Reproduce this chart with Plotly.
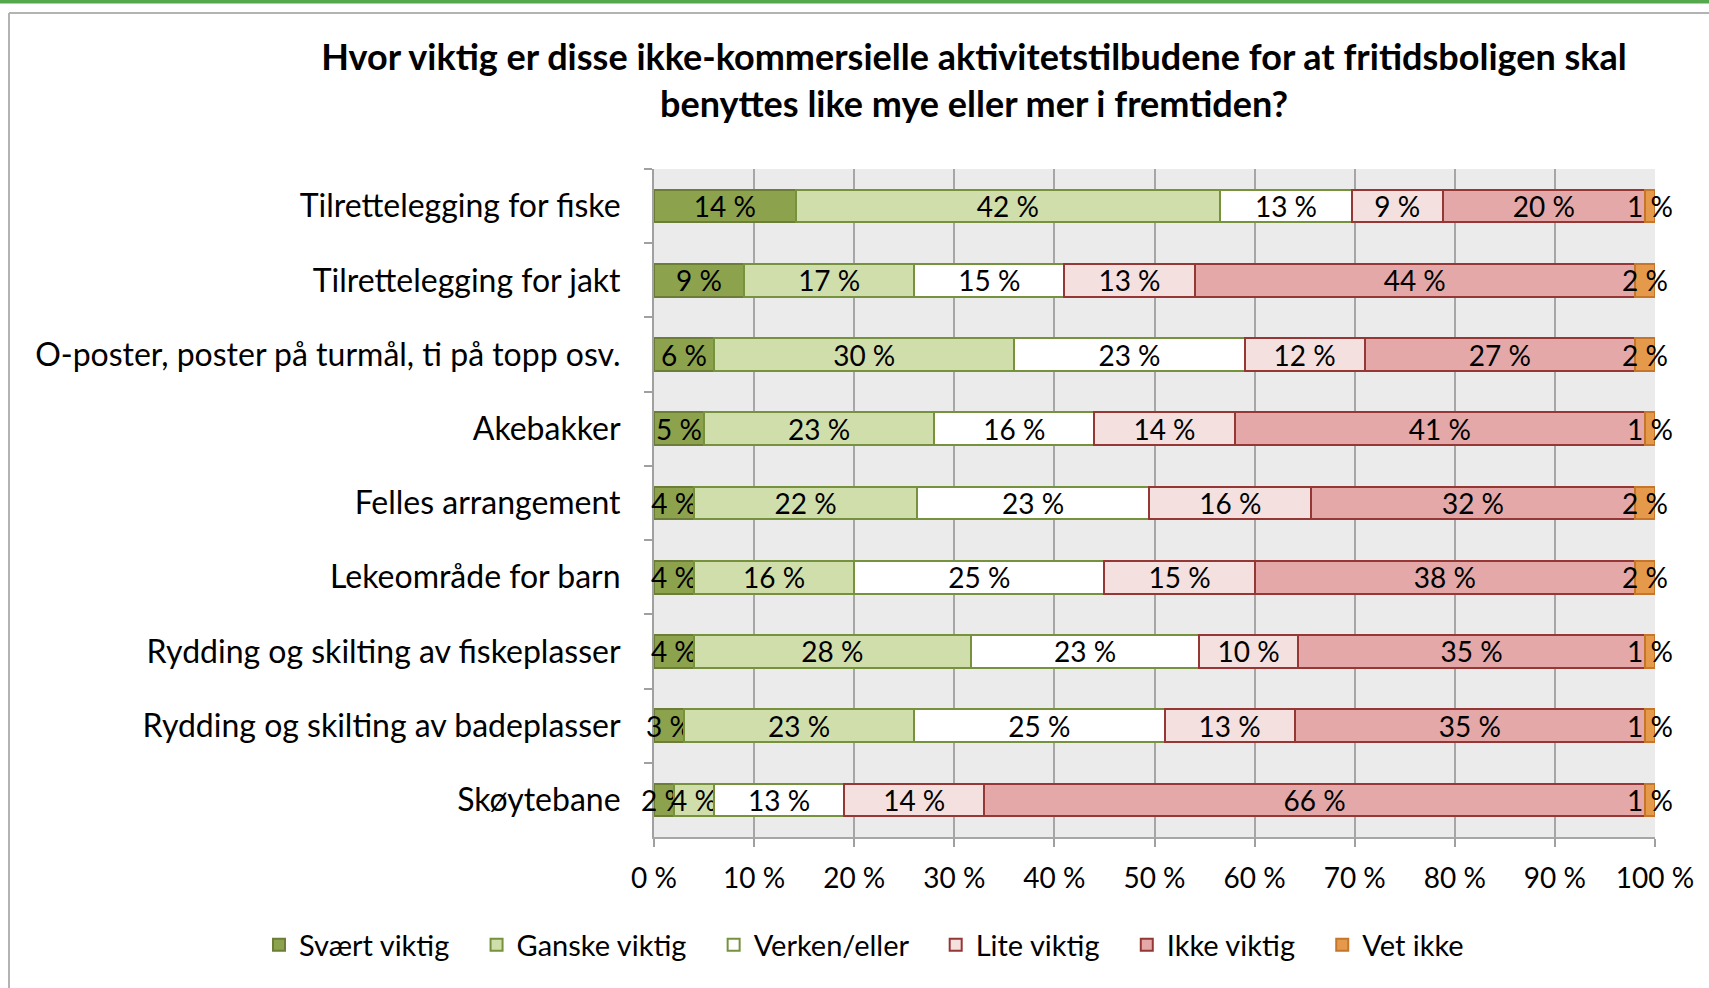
import plotly.graph_objects as go

# Activities, top to bottom as in the chart
categories = [
    "Tilrettelegging for fiske",
    "Tilrettelegging for jakt",
    "O-poster, poster på turmål, ti på topp osv.",
    "Akebakker",
    "Felles arrangement",
    "Lekeområde for barn",
    "Rydding og skilting av fiskeplasser",
    "Rydding og skilting av badeplasser",
    "Skøytebane",
]

svaert_viktig = [14, 9, 6, 5, 4, 4, 4, 3, 2]
ganske_viktig = [42, 17, 30, 23, 22, 16, 28, 23, 4]
verken_eller = [13, 15, 23, 16, 23, 25, 23, 25, 13]
lite_viktig = [9, 13, 12, 14, 16, 15, 10, 13, 14]
ikke_viktig = [20, 44, 27, 41, 32, 38, 35, 35, 66]
vet_ikke = [1, 2, 2, 1, 2, 2, 1, 1, 1]

x_ticks = [0, 10, 20, 30, 40, 50, 60, 70, 80, 90, 100]

series = [
    ("Svært viktig", svaert_viktig, "#8da24d", "#6b7d36"),
    ("Ganske viktig", ganske_viktig, "#d0deab", "#76923c"),
    ("Verken/eller", verken_eller, "#ffffff", "#76923c"),
    ("Lite viktig", lite_viktig, "#f3e0df", "#953735"),
    ("Ikke viktig", ikke_viktig, "#e3a8a7", "#953735"),
    ("Vet ikke", vet_ikke, "#e59a4b", "#c5762b"),
]

FONT = "Lato, 'Open Sans', sans-serif"
W, H = 1709, 988
L, R, T, B = 654, 1655, 169, 837  # plot area in pixels
LEGEND_PAD = "\u00a0" * 3  # Excel spaces legend entries wider than plotly does


def px_x(px):
    return (px - L) / (R - L)


def px_y(py):
    return (B - py) / (B - T)


fig = go.Figure()
for name, vals, fill, edge in series:
    fig.add_trace(
        go.Bar(
            name=name + LEGEND_PAD,
            y=categories,
            x=vals,
            orientation="h",
            marker={"color": fill, "line": {"color": edge, "width": 2}},
            text=[f"{v} %" for v in vals],
            textposition="inside",
            insidetextanchor="middle",
            textangle=0,
            constraintext="none",
            textfont={"family": FONT, "size": 28, "color": "black"},
            cliponaxis=False,
            hovertemplate="%{y}: %{x:.0f} %<extra>" + name + "</extra>",
        )
    )

fig.update_layout(
    width=W,
    height=H,
    barmode="stack",
    barnorm="percent",
    bargap=0.56,
    uniformtext={"mode": "show", "minsize": 28},
    paper_bgcolor="white",
    plot_bgcolor="#ebebeb",
    margin={"l": L, "r": W - R, "t": T, "b": H - B, "pad": 0},
    font={"family": FONT, "color": "black"},
    title={
        "text": "Hvor viktig er disse ikke-kommersielle aktivitetstilbudene for at fritidsboligen skal"
        "<br>benyttes like mye eller mer i fremtiden?",
        "font": {"family": FONT, "size": 36, "color": "black", "weight": "bold"},
        "x": 974 / W,
        "xanchor": "center",
        "y": 1 - 70 / H,
        "yanchor": "middle",
    },
    xaxis={
        "range": [0, 100],
        "tickvals": x_ticks,
        "ticktext": [f"{v} %" for v in x_ticks],
        "ticks": "outside",
        "ticklen": 8,
        "tickwidth": 2,
        "tickcolor": "#a0a0a0",
        "ticklabelstandoff": 7,
        "tickfont": {"family": FONT, "size": 28},
        "showgrid": True,
        "gridcolor": "#a6a6a6",
        "gridwidth": 2,
        "zeroline": False,
        "showline": True,
        "linecolor": "#a6a6a6",
        "linewidth": 2,
        "layer": "below traces",
        "fixedrange": True,
    },
    yaxis={
        "autorange": "reversed",
        "ticks": "outside",
        "tickson": "boundaries",
        "ticklen": 8,
        "tickwidth": 2,
        "tickcolor": "#a0a0a0",
        "ticklabelstandoff": 25,
        "tickfont": {"family": FONT, "size": 32},
        "showgrid": False,
        "showline": True,
        "linecolor": "#a0a0a0",
        "linewidth": 2,
        "layer": "below traces",
        "fixedrange": True,
    },
    legend={
        "orientation": "h",
        "x": px_x(259),
        "xanchor": "left",
        "y": px_y(945),
        "yanchor": "middle",
        "font": {"family": FONT, "size": 29},
        "traceorder": "normal",
        "itemwidth": 30,
    },
    shapes=[
        # outer chart frame (left and top edges)
        {
            "type": "line", "xref": "paper", "yref": "paper",
            "x0": px_x(9), "x1": px_x(9), "y0": px_y(13), "y1": px_y(H + 5),
            "line": {"color": "#b3b3b3", "width": 2},
        },
        {
            "type": "line", "xref": "paper", "yref": "paper",
            "x0": px_x(9), "x1": px_x(W + 5), "y0": px_y(13), "y1": px_y(13),
            "line": {"color": "#b3b3b3", "width": 2},
        },
        # green rule along the top of the page
        {
            "type": "line", "xref": "paper", "yref": "paper",
            "x0": px_x(-5), "x1": px_x(W + 5), "y0": px_y(1.5), "y1": px_y(1.5),
            "line": {"color": "#55a84c", "width": 4},
        },
    ],
)

# drop the default 8px body margin so the figure sits flush in the window
fig.write_html(
    "out.html",
    config={"displayModeBar": False},
    post_script="document.body.style.margin = '0';",
)
